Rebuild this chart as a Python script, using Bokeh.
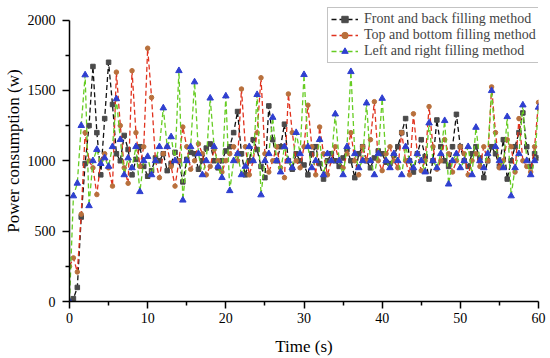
from bokeh.plotting import figure
from bokeh.models import FixedTicker, Legend, LegendItem
from bokeh.embed import file_html
from bokeh.resources import INLINE

time_s = [i * 0.5 for i in range(121)]

front_back = [
    0, 20, 100, 600, 980, 1250, 1670, 1200, 900, 1300,
    1700, 1400, 1050, 1000, 1180, 1080, 900, 1010, 1100, 960,
    890, 930, 1020, 1000, 1050, 930, 980, 1060, 1000, 850,
    1010, 1060, 1050, 940, 1000, 1090, 1120, 1000, 950, 1000,
    1070, 1100, 1200, 1350, 1050, 900, 1000, 1150, 1080, 960,
    880, 1390, 1150, 1000, 1100, 1260, 1000, 940, 1050, 1000,
    970, 900, 1050, 1100, 980, 870, 1000, 1050, 1000, 960,
    1020, 1080, 1000, 880, 1050, 1100, 1000, 950, 1020, 1070,
    1050, 990, 980, 1040, 1100, 1200, 1300, 1000, 920, 1050,
    1150, 1030, 870, 1000, 1290, 1100, 1000, 960, 1100, 1330,
    1100, 1000, 960, 1050, 1100, 1020, 880, 1000, 1100, 1050,
    960, 1150, 870, 1000, 1100, 1200, 1340, 1100, 960, 1050,
    1020,
]

top_bottom = [
    250, 310, 210, 620, 1200, 1000, 950, 760, 1000, 1050,
    950, 820, 1630, 1250, 950, 840, 1640, 1200, 960, 1100,
    1800, 1450, 1000, 880, 1050, 1100, 960, 820, 1000, 1240,
    1100, 940, 1000, 1120, 1050, 900, 960, 1080, 1000, 920,
    1000, 1050, 1100, 1000, 1510, 1100, 900, 1000, 1200, 1590,
    1050, 920, 1000, 1100, 950, 880, 1475, 1200, 1000, 950,
    1100, 1395, 1100, 900, 1240, 1050, 900, 1000, 1100, 1000,
    950, 1050, 1200, 1000, 900, 1100, 1000, 1150, 1420, 1000,
    930, 1050, 1100, 1000, 950, 1200, 1000, 900, 1334, 1050,
    930, 1000, 1385, 1100, 940, 1000, 1150, 1050, 920, 1000,
    1100, 1050, 900, 1000, 1050, 960, 1100, 1000, 1525, 1200,
    950, 1000, 1150, 1100, 920, 1300, 1000, 960, 920, 1100,
    1415,
]

left_right = [
    0, 750, 840, 1250, 1610, 680, 1000, 1080, 980, 1020,
    960, 1100, 1440, 1150, 900, 1020, 950, 1100, 780, 1000,
    1030, 900, 1000, 1100, 1375, 1100, 1170, 1000, 1640, 720,
    1000, 1100, 1560, 1050, 900, 1000, 1445, 1100, 960, 880,
    1460, 787, 1000, 1050, 900, 960, 1100, 1000, 1470, 757,
    1000, 1050, 1308, 1000, 920, 1100, 1000, 950, 1200, 1050,
    1612, 1100, 950, 1000, 1150, 900, 1050, 1000, 1332, 1000,
    900, 1100, 1633, 1050, 950, 1000, 1410, 1000, 900, 1050,
    1443, 1000, 950, 1050, 1000, 900, 1100, 1000, 950, 1050,
    1000, 920, 1268, 1000, 950, 1050, 1285, 834, 1000, 1050,
    950, 1000, 1100, 900, 1237, 1000, 950, 1050, 1498, 1100,
    1000, 950, 1313, 750, 950, 1050, 1396, 1000, 900, 1000,
    1380,
]

series_names = ["Front and back filling method",
                "Top and bottom filling method",
                "Left and right filling method"]
x_ticks = [0, 10, 20, 30, 40, 50, 60]
y_ticks = [0, 500, 1000, 1500, 2000]

FONT = "Liberation Serif"

p = figure(width=550, height=358, x_range=(0, 60), y_range=(0, 2139),
           output_backend="svg", toolbar_location=None,
           min_border_left=67, min_border_right=12, min_border_top=0,
           min_border_bottom=57)
p.outline_line_color = None
p.xgrid.visible = False
p.ygrid.visible = False

styles = [
    (front_back, "#111111", "#4a4a4a", "square", 4.5),
    (top_bottom, "#e0321e", "#b8703c", "circle", 4.5),
    (left_right, "#66cc22", "#2f3fd0", "triangle", 6.5),
]
items = []
for (vals, lc, mc, marker, ms), name in zip(styles, series_names):
    ln = p.line(time_s, vals, line_color=lc, line_width=1.3, line_dash="5 3")
    sc = p.scatter(time_s, vals, marker=marker, size=ms, fill_color=mc,
                   line_color=mc)
    items.append(LegendItem(label=name, renderers=[ln, sc]))

legend = Legend(items=items, location=(258, 238))
legend.label_text_font = FONT
legend.label_text_font_size = "14px"
legend.label_height = 16
legend.glyph_height = 16
legend.glyph_width = 27
legend.label_standoff = 6
legend.spacing = 0
legend.padding = 3
legend.margin = 0
legend.border_line_color = "#888888"
legend.border_line_width = 1
legend.background_fill_alpha = 1
p.add_layout(legend)

for ax in (p.xaxis[0], p.yaxis[0]):
    ax.axis_line_width = 1.5
    ax.axis_line_color = "black"
    ax.major_tick_line_color = "black"
    ax.minor_tick_line_color = "black"
    ax.major_tick_line_width = 1.5
    ax.minor_tick_line_width = 1.5
    ax.major_tick_out = 7
    ax.major_tick_in = 0
    ax.minor_tick_out = 4
    ax.minor_tick_in = 0
    ax.major_label_text_font = FONT
    ax.major_label_text_font_size = "14px"
    ax.major_label_text_color = "black"
    ax.axis_label_text_font = FONT
    ax.axis_label_text_font_size = "17px"
    ax.axis_label_text_font_style = "normal"
    ax.axis_label_text_color = "black"

p.xaxis[0].ticker = FixedTicker(ticks=x_ticks, minor_ticks=[5, 15, 25, 35, 45, 55])
p.yaxis[0].ticker = FixedTicker(ticks=y_ticks, minor_ticks=[250, 750, 1250, 1750])
p.yaxis[0].bounds = (0, 2000)
p.xaxis[0].axis_label = "Time (s)"
p.yaxis[0].axis_label = "Power consumption (w)"
p.xaxis[0].major_label_standoff = 4
p.yaxis[0].major_label_standoff = 7
p.xaxis[0].axis_label_standoff = 11
p.yaxis[0].axis_label_standoff = 2

open("out.html", "w").write(file_html(p, INLINE))
